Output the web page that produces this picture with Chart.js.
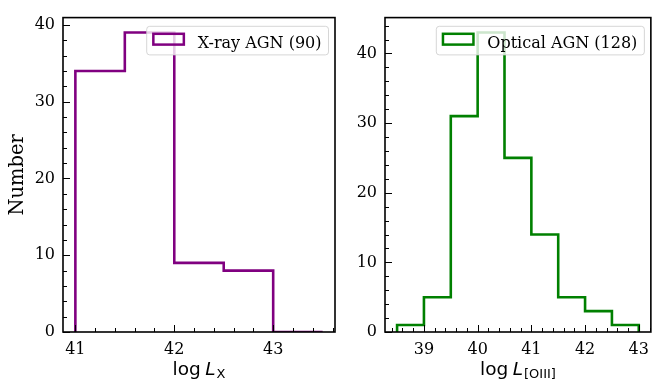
<!DOCTYPE html>
<html>
<head>
<meta charset="utf-8">
<script src="https://cdn.jsdelivr.net/npm/chart.js@4.4.1/dist/chart.umd.min.js"></script>
<style>
  body { margin: 0; background: #fff; width: 657px; height: 381px; overflow: hidden; position: relative; }
  .panel { position: absolute; top: 0; height: 381px; }
</style>
</head>
<body>
<div class="panel" style="left:0;width:340px"><canvas id="xrayChart" width="340" height="381"></canvas></div>
<div class="panel" style="left:340px;width:317px"><canvas id="opticalChart" width="317" height="381"></canvas></div>
<script>
// histogram bins (edges) and counts
var xrayEdges = [41, 41.5, 42, 42.5, 43, 43.5];
var xrayCounts = [34, 39, 9, 8, 0];
var opticalEdges = [38.5, 39, 39.5, 40, 40.5, 41, 41.5, 42, 42.5, 43];
var opticalCounts = [1, 5, 31, 43, 25, 14, 5, 3, 1];

var xrayTicks = [41, 42, 43];
var opticalTicks = [39, 40, 41, 42, 43];
var countTicks = [0, 10, 20, 30, 40];

var xrayLabel = "X-ray AGN (90)";
var opticalLabel = "Optical AGN (128)";

var serif = "'DejaVu Serif', 'Liberation Serif', serif";
var sans = "'DejaVu Sans', sans-serif";

// outline of a step histogram, built from edges + counts
function stepPoints(edges, counts) {
  var pts = [{ x: edges[0], y: 0 }];
  for (var i = 0; i < counts.length; i++) {
    pts.push({ x: edges[i], y: counts[i] });
    pts.push({ x: edges[i + 1], y: counts[i] });
  }
  pts.push({ x: edges[edges.length - 1], y: 0 });
  return pts;
}

// "log L_sub" in the mathtext look
function drawMathLabel(ctx, cx, baseline, sub) {
  var size = 18.5;
  var parts = [
    { t: "log", f: size + "px " + sans, dy: 0, gap: 4.5 },
    { t: "L", f: "oblique " + size + "px " + sans, dy: 0, gap: 1 },
    { t: sub, f: Math.round(size * 0.7) + "px " + sans, dy: 2.5, gap: 0 }
  ];
  var w = 0;
  parts.forEach(function (p) { ctx.font = p.f; p.w = ctx.measureText(p.t).width; w += p.w + p.gap; });
  var x = cx - w / 2;
  ctx.fillStyle = "#000";
  ctx.textBaseline = "alphabetic";
  ctx.textAlign = "left";
  parts.forEach(function (p) { ctx.font = p.f; ctx.fillText(p.t, x, baseline + p.dy); x += p.w + p.gap; });
}

var decor = {
  id: "decor",
  afterDatasetsDraw: function (chart, args, o) {
    var ctx = chart.ctx, a = chart.chartArea;
    // legend box (matplotlib style, upper right)
    ctx.save();
    ctx.font = "16px " + serif;
    var tw = ctx.measureText(o.label).width;
    var right = a.right - 6.5, top = a.top + 8.7, h = 28.6;
    var left = right - (51 + tw + 7);
    ctx.beginPath();
    ctx.roundRect(left, top, right - left, h, 3);
    ctx.fillStyle = "rgba(255,255,255,0.8)";
    ctx.fill();
    ctx.strokeStyle = "rgba(204,204,204,0.8)";
    ctx.lineWidth = 1;
    ctx.stroke();
    ctx.strokeStyle = o.color;
    ctx.lineWidth = 2.5;
    ctx.strokeRect(left + 6.65, top + 7.5, 30.5, 10.8);
    ctx.fillStyle = "#000";
    ctx.textBaseline = "alphabetic";
    ctx.fillText(o.label, left + 51, top + 21.3);
    ctx.restore();
  },
  afterDraw: function (chart, args, o) {
    var ctx = chart.ctx, a = chart.chartArea, xs = chart.scales.x, ys = chart.scales.y;
    ctx.save();
    ctx.strokeStyle = "#000";
    ctx.lineWidth = 1;
    ctx.beginPath();
    var v, p;
    for (v = Math.ceil(xs.min / 0.2) * 0.2; v <= xs.max + 1e-9; v += 0.2) {
      p = Math.round(xs.getPixelForValue(v)) + 0.5;
      var major = Math.abs(v - Math.round(v)) < 1e-6;
      ctx.moveTo(p, a.bottom);
      ctx.lineTo(p, a.bottom - (major ? 7 : 4));
    }
    for (v = 0; v <= ys.max + 1e-9; v += 2) {
      p = Math.round(ys.getPixelForValue(v)) + 0.5;
      ctx.moveTo(a.left, p);
      ctx.lineTo(a.left + (v % 10 === 0 ? 7 : 4), p);
    }
    ctx.stroke();
    ctx.lineWidth = 1.6;
    ctx.strokeRect(a.left, a.top, a.right - a.left, a.bottom - a.top);
    drawMathLabel(ctx, (a.left + a.right) / 2, 375, o.sub);
    if (o.yTitle) {
      ctx.translate(17.5, (a.top + a.bottom) / 2);
      ctx.rotate(-Math.PI / 2);
      ctx.font = "19.5px " + serif;
      ctx.textAlign = "center";
      ctx.textBaseline = "middle";
      ctx.fillStyle = "#000";
      ctx.fillText(o.yTitle, 0, 0);
    }
    ctx.restore();
  }
};

function makeChart(id, edges, counts, color, label, xTicks, sub, yTitle, yWidth, padRight) {
  var span = edges[edges.length - 1] - edges[0];
  var ymax = Math.max.apply(null, counts) * 1.05;
  var tickFont = { family: serif, size: 16 };
  return new Chart(document.getElementById(id), {
    type: "line",
    data: {
      datasets: [{
        data: stepPoints(edges, counts),
        borderColor: color,
        borderWidth: 2.6,
        pointRadius: 0,
        fill: false,
        tension: 0,
        borderJoinStyle: "miter"
      }]
    },
    options: {
      responsive: false,
      animation: false,
      devicePixelRatio: 1,
      layout: { padding: { top: 14, right: padRight, left: 0, bottom: 0 } },
      plugins: {
        legend: { display: false },
        tooltip: { enabled: false },
        decor: { label: label, color: color, sub: sub, yTitle: yTitle }
      },
      scales: {
        x: {
          type: "linear",
          min: edges[0] - 0.05 * span,
          max: edges[edges.length - 1] + 0.05 * span,
          afterBuildTicks: function (s) { s.ticks = xTicks.map(function (t) { return { value: t }; }); },
          afterFit: function (s) { s.height = 49; },
          grid: { display: false, drawTicks: false },
          border: { display: false },
          ticks: { font: tickFont, color: "#000", padding: 8, maxRotation: 0, autoSkip: false }
        },
        y: {
          min: 0,
          max: ymax,
          afterBuildTicks: function (s) { s.ticks = countTicks.map(function (t) { return { value: t }; }); },
          afterFit: function (s) { s.width = yWidth; },
          grid: { display: false, drawTicks: false },
          border: { display: false },
          ticks: { font: tickFont, color: "#000", padding: 8, autoSkip: false }
        }
      }
    },
    plugins: [decor]
  });
}

makeChart("xrayChart", xrayEdges, xrayCounts, "#800080", xrayLabel, xrayTicks, "X", "Number", 63, 5);
makeChart("opticalChart", opticalEdges, opticalCounts, "#008000", opticalLabel, opticalTicks, "[OIII]", null, 45, 1);
</script>
</body>
</html>
